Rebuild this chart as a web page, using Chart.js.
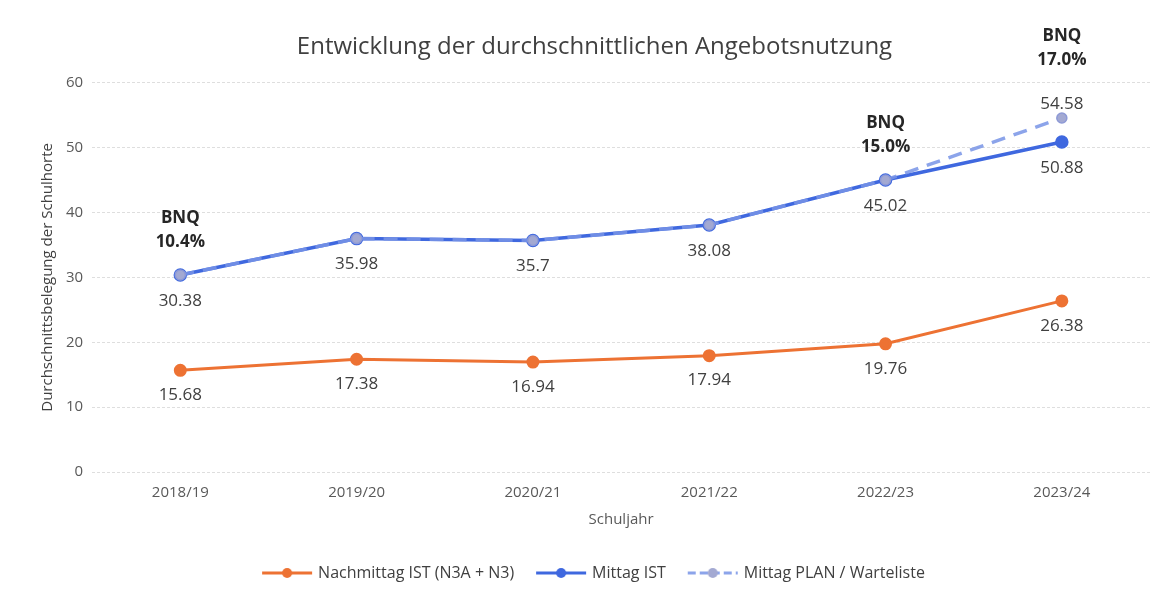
<!DOCTYPE html>
<html>
<head>
<meta charset="utf-8">
<script src="https://cdn.jsdelivr.net/npm/chart.js@4.4.0/dist/chart.umd.min.js"></script>
<style>
  html, body { margin: 0; padding: 0; background: #fff; }
  #wrap { width: 1160px; height: 595px; }
</style>
</head>
<body>
<div id="wrap"><canvas id="myChart" width="1160" height="595"></canvas></div>
<script>
const schuljahre = ['2018/19', '2019/20', '2020/21', '2021/22', '2022/23', '2023/24']
const nachmittagIst = [15.68, 17.38, 16.94, 17.94, 19.76, 26.38]
const mittagIst = [30.38, 35.98, 35.7, 38.08, 45.02, 50.88]
const mittagPlan = [30.38, 35.98, 35.7, 38.08, 45.02, 54.58]
const bnq = ['10.4%', null, null, null, '15.0%', '17.0%']
const yTicks = [0, 10, 20, 30, 40, 50, 60]

const orange = '#ED7233'
const blue = '#3F68DF'
const planBlue = 'rgba(120,148,230,0.85)'

function legendIcon(color, dashed, dotColor) {
    const c = document.createElement('canvas')
    c.width = 52
    c.height = 14
    const g = c.getContext('2d')
    g.strokeStyle = color
    g.lineWidth = 3
    if (dashed) g.setLineDash([8, 4])
    g.beginPath()
    g.moveTo(1, 7)
    g.lineTo(51, 7)
    g.stroke()
    g.setLineDash([])
    g.fillStyle = dotColor
    g.beginPath()
    g.arc(26, 7, 5, 0, Math.PI * 2)
    g.fill()
    return c
}

const labelPlugin = {
    id: 'werte',
    afterDatasetsDraw(chart) {
        const ctx = chart.ctx
        const x = chart.scales.x
        const y = chart.scales.y
        ctx.save()
        ctx.textAlign = 'center'
        ctx.textBaseline = 'middle'
        ctx.fillStyle = '#404040'
        ctx.font = '17px "Open Sans"'
        schuljahre.forEach((s, i) => {
            const px = x.getPixelForValue(i)
            ctx.fillText(String(nachmittagIst[i]), px, y.getPixelForValue(nachmittagIst[i]) + 25)
            ctx.fillText(String(mittagIst[i]), px, y.getPixelForValue(mittagIst[i]) + 26)
            let top = y.getPixelForValue(mittagPlan[i])
            if (mittagPlan[i] !== mittagIst[i]) {
                ctx.fillText(String(mittagPlan[i]), px, top - 14)
                top -= 25
            }
            if (bnq[i]) {
                ctx.font = 'bold 17px "Open Sans"'
                ctx.fillStyle = '#262626'
                ctx.fillText('BNQ', px, top - 57)
                ctx.fillText(bnq[i], px, top - 33)
                ctx.font = '17px "Open Sans"'
                ctx.fillStyle = '#404040'
            }
        })
        ctx.restore()
    }
}

new Chart(document.getElementById('myChart').getContext('2d'), {
    type: 'line',
    data: {
        labels: schuljahre,
        datasets: [
            {
                label: 'Nachmittag IST (N3A + N3)',
                data: nachmittagIst,
                borderColor: orange,
                backgroundColor: orange,
                borderWidth: 3,
                pointRadius: 5,
                pointBackgroundColor: orange,
                pointBorderColor: orange,
                order: 2
            },
            {
                label: 'Mittag IST',
                data: mittagIst,
                borderColor: blue,
                backgroundColor: blue,
                borderWidth: 3.5,
                pointRadius: 5,
                pointBackgroundColor: blue,
                pointBorderColor: blue,
                order: 1
            },
            {
                label: 'Mittag PLAN / Warteliste',
                data: mittagPlan,
                borderColor: planBlue,
                backgroundColor: '#A3A9D2',
                borderWidth: 3.5,
                borderDash: [14, 9],
                pointRadius: 5,
                pointBackgroundColor: '#A3A9D2',
                pointBorderColor: '#8E9AD6',
                pointBorderWidth: 1.5,
                order: 0
            }
        ]
    },
    options: {
        responsive: false,
        animation: false,
        layout: { padding: { left: 39, right: 10, top: 0, bottom: 4 } },
        plugins: {
            tooltip: { enabled: false },
            title: {
                display: true,
                text: 'Entwicklung der durchschnittlichen Angebotsnutzung',
                color: '#404040',
                font: { family: 'Open Sans', size: 24, weight: 'normal' },
                padding: { top: 33, bottom: 21 }
            },
            legend: {
                position: 'bottom',
                labels: {
                    usePointStyle: true,
                    pointStyleWidth: 46,
                    boxHeight: 14,
                    padding: 24,
                    color: '#404040',
                    font: { family: 'Open Sans', size: 16 },
                    generateLabels(chart) {
                        const icons = [
                            legendIcon(orange, false, orange),
                            legendIcon(blue, false, blue),
                            legendIcon(planBlue, true, '#A3A9D2')
                        ]
                        return chart.data.datasets.map((d, i) => ({
                            text: d.label,
                            pointStyle: icons[i],
                            fillStyle: d.borderColor,
                            strokeStyle: d.borderColor,
                            lineWidth: 0,
                            datasetIndex: i,
                            fontColor: '#404040'
                        }))
                    }
                }
            }
        },
        scales: {
            x: {
                offset: true,
                grid: { display: false },
                border: { display: false },
                ticks: { color: '#595959', font: { family: 'Open Sans', size: 15 }, padding: 4 },
                title: {
                    display: true,
                    text: 'Schuljahr',
                    color: '#595959',
                    font: { family: 'Open Sans', size: 15 },
                    padding: { top: 5, bottom: 12 }
                }
            },
            y: {
                min: 0,
                max: 60,
                afterBuildTicks(axis) {
                    axis.ticks = yTicks.map(v => ({ value: v }))
                },
                grid: { color: '#dedede', drawTicks: false },
                border: { display: false, dash: [3, 2] },
                ticks: { color: '#595959', font: { family: 'Open Sans', size: 15 }, padding: 9 },
                title: {
                    display: true,
                    text: 'Durchschnittsbelegung der Schulhorte',
                    color: '#404040',
                    font: { family: 'Open Sans', size: 15 },
                    padding: { top: 0, bottom: 0 }
                }
            }
        }
    },
    plugins: [labelPlugin]
})
</script>
</body>
</html>
